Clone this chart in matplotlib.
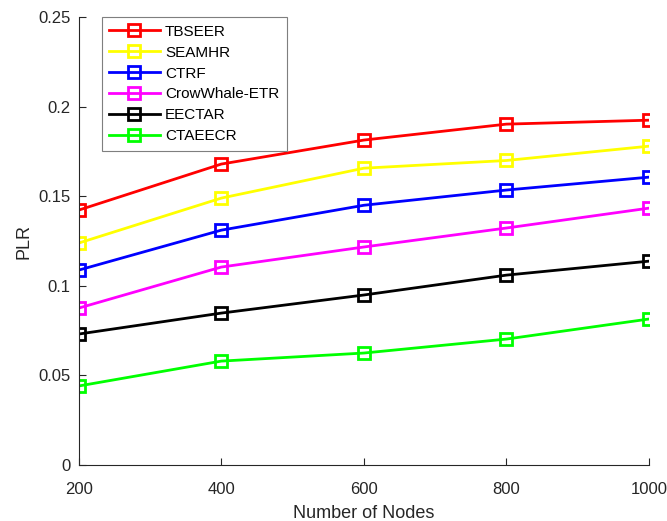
import matplotlib
matplotlib.use('Agg')
import matplotlib.pyplot as plt

plt.rcParams['font.family'] = ['Liberation Sans', 'DejaVu Sans']

nodes = [200, 400, 600, 800, 1000]
tbseer = [0.1423, 0.1680, 0.1814, 0.1903, 0.1925]
seamhr = [0.1239, 0.1490, 0.1657, 0.1700, 0.1780]
ctrf = [0.1088, 0.1311, 0.1450, 0.1535, 0.1607]
crowwhale = [0.0876, 0.1105, 0.1217, 0.1323, 0.1434]
eectar = [0.0731, 0.0848, 0.0949, 0.1060, 0.1138]
ctaeecr = [0.0441, 0.0580, 0.0625, 0.0703, 0.0815]

series = [
    ('TBSEER', tbseer, '#ff0000'),
    ('SEAMHR', seamhr, '#ffff00'),
    ('CTRF', ctrf, '#0000ff'),
    ('CrowWhale-ETR', crowwhale, '#ff00ff'),
    ('EECTAR', eectar, '#000000'),
    ('CTAEECR', ctaeecr, '#00ff00'),
]

fig = plt.figure(figsize=(6.67, 5.21), dpi=100)
ax = fig.add_axes([0.118, 0.1075, 0.855, 0.8595])

for name, vals, c in series:
    ax.plot(nodes, vals, color=c, linewidth=2, marker='s', markersize=8,
            markerfacecolor='none', markeredgewidth=2, label=name)

ax.set_xlim(200, 1000)
ax.set_ylim(0, 0.25)
ax.set_xticks(nodes)
ax.set_xticklabels(['200', '400', '600', '800', '1000'])
ax.set_yticks([0, 0.05, 0.1, 0.15, 0.2, 0.25])
ax.set_yticklabels(['0', '0.05', '0.1', '0.15', '0.2', '0.25'])
ax.spines['top'].set_visible(False)
ax.spines['right'].set_visible(False)
for s in ['left', 'bottom']:
    ax.spines[s].set_color('#262626')
    ax.spines[s].set_linewidth(0.8)
ax.tick_params(direction='in', length=5, labelsize=12, colors='#262626')
ax.tick_params(axis='y', pad=6)
ax.tick_params(axis='x', pad=12)
ax.set_xlabel('Number of Nodes', fontsize=13, color='#262626', labelpad=6)
ax.set_ylabel('PLR', fontsize=13, color='#262626')

leg = ax.legend(loc='upper left', bbox_to_anchor=(0.04, 1.0), fontsize=11,
                fancybox=False, framealpha=1, edgecolor='#7f7f7f',
                handlelength=3.3, borderpad=0.5, labelspacing=0.45,
                handletextpad=0.35, borderaxespad=0.0)
leg.get_frame().set_linewidth(0.8)

fig.savefig('out.png', dpi=100)
